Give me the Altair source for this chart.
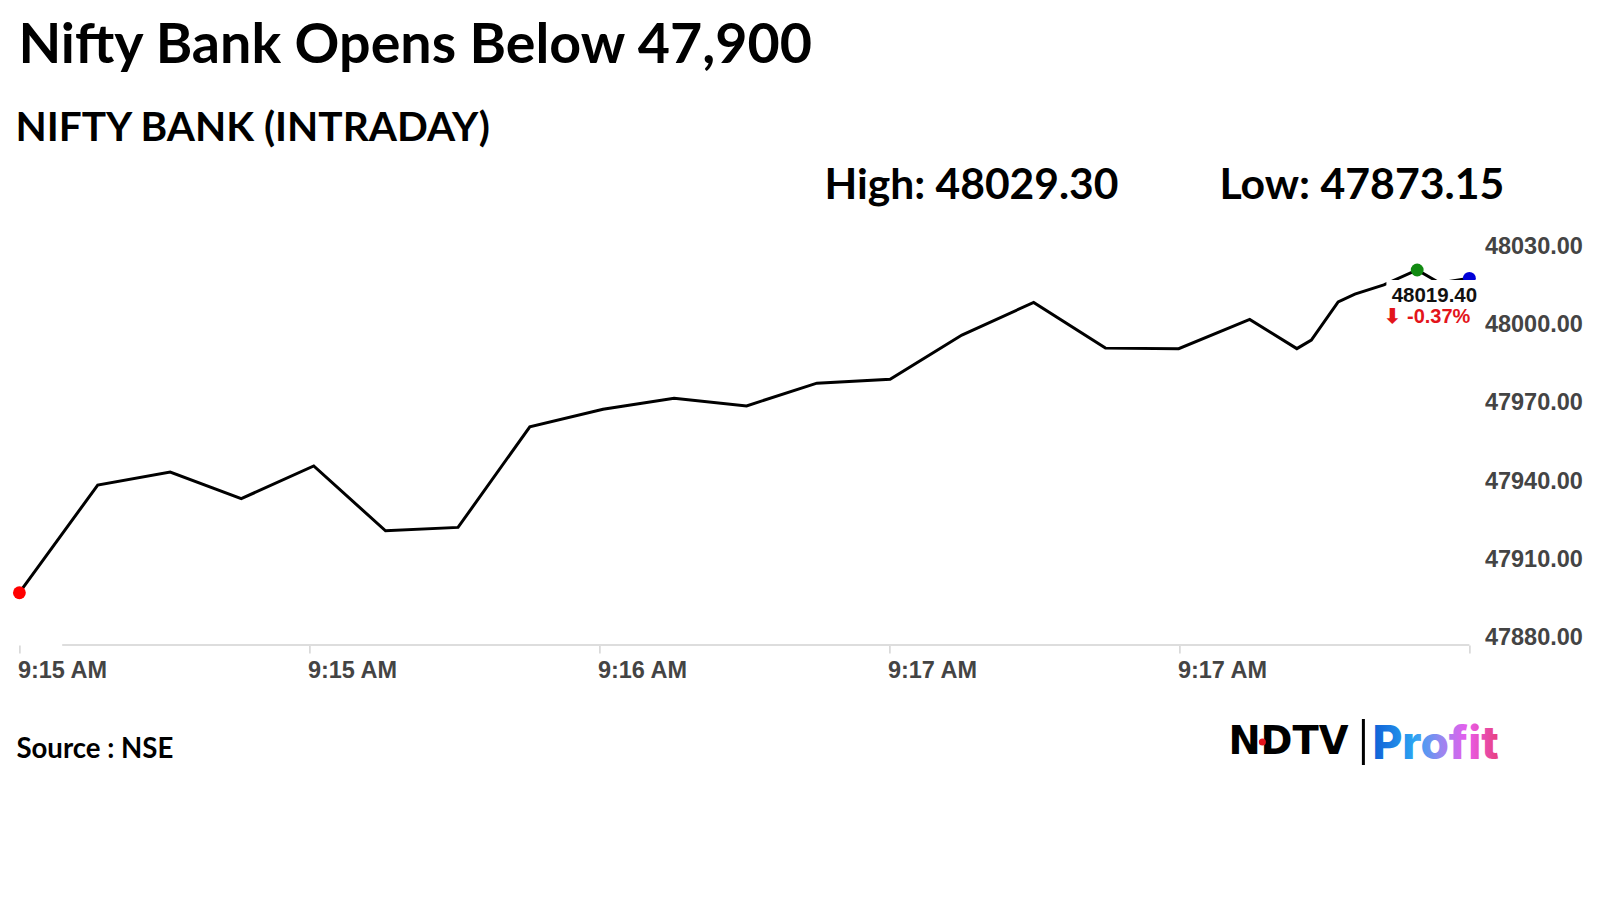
import altair as alt
import pandas as pd

# ---------------- data ----------------
step_idx = [0, 1.08, 2.08, 3.06, 4.06, 5.05, 6.05, 7.04, 8.05, 9.03, 10.03, 11.0,
            12.01, 13.0, 13.99, 14.98, 15.99, 16.97,
            17.62, 17.82, 18.19, 18.42, 18.82, 19.28, 19.59, 20]
price = [47900.0, 47941.2, 47946.2, 47936.0, 47948.5, 47923.7, 47925.0,
         47963.5, 47970.2, 47974.4, 47971.5, 47980.2, 47981.7, 47998.6,
         48011.1, 47993.6, 47993.4, 48004.6, 47993.4, 47996.7, 48011.3,
         48014.3, 48017.8, 48023.5, 48018.5, 48020.3]

dot_idx = [0, 19.28, 20]
dot_val = [47900.0, 48023.5, 48020.3]
dot_kind = ["open", "peak", "last"]
dot_colors = ["#ff0000", "#118a11", "#0000d8"]

x_tick_vals = [0, 4, 8, 12, 16, 20]
x_tick_labels = ["9:15 AM", "9:15 AM", "9:16 AM", "9:17 AM", "9:17 AM", ""]
y_tick_vals = [47880, 47910, 47940, 47970, 48000, 48030]

title_text = "Nifty Bank Opens Below 47,900"
subtitle_text = "NIFTY BANK (INTRADAY)"
high_text = "High: 48029.30"
low_text = "Low: 47873.15"
last_text = "48019.40"
change_text = "\u2b07 -0.37%"
source_text = "Source : NSE"

line_df = pd.DataFrame({"idx": step_idx, "price": price})
dots_df = pd.DataFrame({"idx": dot_idx, "price": dot_val, "kind": dot_kind})

W, H = 1450, 392
LBL = "Liberation Sans"
HEAD = "Lato"

x_scale = alt.Scale(domain=[0, 20], nice=False, zero=False)
y_scale = alt.Scale(domain=[47880, 48030], nice=False, zero=False)

label_expr = "[" + ",".join("'%s'" % s for s in x_tick_labels) + "][round(datum.value/4)]"

x_axis = alt.Axis(values=x_tick_vals, labelExpr=label_expr, title=None, grid=False,
                  domain=False, ticks=True, tickSize=8, tickColor="#d4d4d4", tickWidth=1.5,
                  labelAlign="left", labelBaseline="top", labelPadding=6, labelOffset=-2,
                  labelFont=LBL, labelFontWeight="bold", labelFontSize=23.5, labelColor="#444444")
y_axis = alt.Axis(orient="right", values=y_tick_vals, format=".2f", title=None, grid=False,
                  domain=False, ticks=False, labelAlign="left", labelBaseline="alphabetic",
                  labelPadding=15, labelFont=LBL, labelFontWeight="bold", labelFontSize=23.5,
                  labelColor="#444444")

base_line = alt.Chart(line_df).mark_line(color="#000000", strokeWidth=3).encode(
    x=alt.X("idx:Q", scale=x_scale, axis=x_axis),
    y=alt.Y("price:Q", scale=y_scale, axis=y_axis),
)

domain_rule = alt.Chart(pd.DataFrame({"idx": [0.59], "b": [20], "price": [47880]})).mark_rule(
    color="#dddddd", strokeWidth=2).encode(
    x=alt.X("idx:Q", scale=x_scale, axis=x_axis), x2="b:Q",
    y=alt.Y("price:Q", scale=y_scale, axis=y_axis))

dots = alt.Chart(dots_df).mark_circle(size=165, opacity=1).encode(
    x=alt.X("idx:Q", scale=x_scale, axis=x_axis),
    y=alt.Y("price:Q", scale=y_scale, axis=y_axis),
    color=alt.Color("kind:N", scale=alt.Scale(domain=dot_kind, range=dot_colors), legend=None),
)

# white label box behind the last-price annotation
label_box = alt.Chart(pd.DataFrame({"k": [1]})).mark_rect(color="#ffffff").encode(
    x=alt.value(1367), x2=alt.value(1460), y=alt.value(27), y2=alt.value(76))


def txt(text, x, y, size, font=HEAD, weight="bold", color="#000000", align="left"):
    return alt.Chart(pd.DataFrame({"t": [text]})).mark_text(
        font=font, fontSize=size, fontWeight=weight, color=color, align=align,
        baseline="alphabetic").encode(text="t:N", x=alt.value(x), y=alt.value(y))


last_lbl = txt(last_text, 1415, 48.5, 20.5, font=LBL, color="#111111", align="center")
chg_lbl = txt(change_text, 1408, 70, 20, font=LBL, color="#e3141b", align="center")

title = txt(title_text, -1, -190, 55.6)
subtitle = txt(subtitle_text, -4, -112, 40.6)
high = txt(high_text, 805, -54, 42.6)
low = txt(low_text, 1200, -54, 42.8)
source = txt(source_text, -3, 505, 27.6)

ndtv = txt("NDTV", 1209, 501, 38.5, font="DejaVu Sans")
ndtv_dot = alt.Chart(pd.DataFrame({"k": [1]})).mark_circle(size=50, color="#e3141b", opacity=1).encode(
    x=alt.value(1243), y=alt.value(489))
bar = alt.Chart(pd.DataFrame({"k": [1]})).mark_rule(color="#000000", strokeWidth=3).encode(
    x=alt.value(1344), y=alt.value(466), y2=alt.value(512))
profit = alt.Chart(pd.DataFrame({"t": ["Profit"]})).mark_text(
    font="Inter", fontSize=46, fontWeight=800, align="left", baseline="alphabetic",
    color=alt.Gradient(gradient="linear", x1=0, x2=1, y1=0, y2=0, stops=[
        alt.GradientStop(color="#0f5fd6", offset=0),
        alt.GradientStop(color="#2ca4f2", offset=0.33),
        alt.GradientStop(color="#9a86f0", offset=0.55),
        alt.GradientStop(color="#e85cec", offset=0.75),
        alt.GradientStop(color="#e8407c", offset=1),
    ])).encode(text="t:N", x=alt.value(1353), y=alt.value(506))

chart = alt.layer(
    base_line, domain_rule, dots, label_box, last_lbl, chg_lbl,
    title, subtitle, high, low, source, ndtv, ndtv_dot, bar, profit,
).properties(
    width=W, height=H,
    padding={"left": 11.4, "top": 245, "right": 120, "bottom": 240},
    autosize=alt.AutoSizeParams(type="none"),
    background="#ffffff",
).configure_view(stroke=None)

chart.save("out.html", embed_options={"renderer": "svg", "actions": False})
